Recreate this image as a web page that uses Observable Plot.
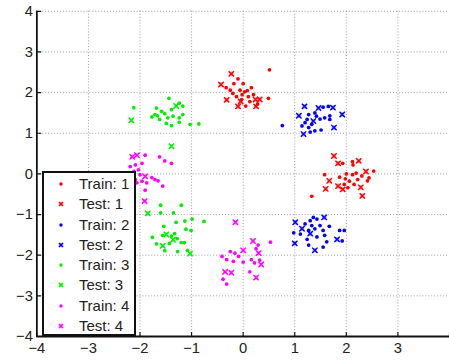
<!DOCTYPE html>
<html><head><meta charset="utf-8">
<script src="https://cdn.jsdelivr.net/npm/d3@7"></script>
<script src="https://cdn.jsdelivr.net/npm/@observablehq/plot@0.6"></script>
<style>
body{margin:0;background:#fff}
#wrap{position:relative;width:449px;height:361px;overflow:hidden;font-family:"Liberation Sans",Arial,Helvetica,sans-serif}
#legend{position:absolute;left:42px;top:171px;width:90px;height:161px;border:2px solid #111;background:#fff}
.row{position:absolute;left:0;width:90px;height:20px;line-height:20px;font-size:15px;color:#222}
.row svg{position:absolute;left:10px;top:3px}
.row span{position:absolute;left:35px;top:0}
</style>
</head><body>
<div id="wrap"><div id="chart"></div><div id="legend"></div></div>
<script>
const ticks = [-4,-3,-2,-1,0,1,2,3,4];
const xTickLabels = [-4,-3,-2,-1,0,1,2,3];
const yTickLabels = [-4,-3,-2,-1,0,1,2,3,4];
const classNames = ["1","2","3","4"];
const classColors = ["#ff0000","#0000ff","#00ee00","#ff00ff"];

const train1 = [[0.51,2.56],[-0.10,2.34],[-0.33,2.12],[-0.18,2.22],[0,2.22],[-0.25,2.06],[-0.06,2.06],[0.16,2.12],[0.03,2.02],[-0.13,1.90],[-0.03,1.83],[0.10,1.90],[0.49,1.86],[0.13,1.78],[0.05,1.67],[-0.20,1.98],[0.08,2.05],[-0.02,1.95],[0.20,1.95],[0.28,1.72],
[1.93,0.26],[2.12,0.30],[2.13,0.22],[1.58,-0.02],[1.87,-0.08],[2.0,0],[2.12,-0.02],[2.19,0.02],[2.53,0.07],[2.44,-0.10],[1.96,-0.26],[2.03,-0.34],[2.15,-0.26],[2.06,-0.18],[1.33,-0.55],[2.41,-0.17],[2.22,-0.14],[2.30,-0.05],[1.98,-0.12]];
const test1 = [[-0.23,2.46],[-0.43,2.20],[-0.32,1.82],[0.24,1.83],[0.32,1.83],[-0.10,1.66],[0.25,1.66],[-0.05,1.78],
[1.76,0.44],[1.84,0.26],[2.24,0.32],[2.38,0.06],[1.67,-0.17],[1.84,-0.30],[1.93,-0.38],[2.28,-0.33],[1.60,-0.37],[2.31,-0.54]];

const train2 = [[1.55,1.64],[1.65,1.66],[1.27,1.46],[1.39,1.50],[1.68,1.43],[0.76,1.19],[1.24,1.34],[1.49,1.35],[1.58,1.38],[1.68,1.34],[1.14,1.18],[1.27,1.14],[1.39,1.06],[1.51,1.08],[1.30,1.03],[1.20,1.26],[1.33,1.22],[1.42,1.42],
[1.36,-1.07],[1.30,-1.15],[1.43,-1.11],[1.20,-1.23],[1.33,-1.27],[1.49,-1.27],[1.67,-1.29],[1.27,-1.39],[1.39,-1.35],[1.55,-1.39],[1.87,-1.39],[1.96,-1.39],[0.98,-1.45],[1.11,-1.48],[1.58,-1.51],[1.92,-1.65],[1.24,-1.61],[1.43,-1.55],[1.62,-1.67],[1.27,-1.75],[1.55,-1.80]];
const test2 = [[1.19,1.66],[1.46,1.62],[1.74,1.63],[1.08,1.43],[1.92,1.46],[1.36,1.30],[1.76,1.14],[1.17,0.98],
[1.57,-1.07],[1.01,-1.19],[1.14,-1.35],[1.30,-1.47],[1.82,-1.61],[1.00,-1.71],[1.39,-1.88]];

const train3 = [[-1.44,1.86],[-2.12,1.63],[-1.68,1.62],[-1.58,1.54],[-1.39,1.58],[-1.24,1.74],[-1.17,1.67],[-1.77,1.40],[-1.66,1.43],[-1.52,1.48],[-1.46,1.38],[-1.62,1.34],[-1.36,1.42],[-1.24,1.38],[-1.17,1.46],[-1.49,1.24],[-1.39,1.19],[-1.24,1.27],[-1.03,1.22],[-0.86,1.23],[-1.71,1.46],
[-1.60,-0.77],[-1.20,-0.77],[-1.60,-0.96],[-1.35,-0.96],[-0.99,-1.11],[-0.76,-1.17],[-1.30,-1.19],[-1.13,-1.16],[-1.54,-1.29],[-1.11,-1.36],[-1.01,-1.39],[-1.76,-1.56],[-1.56,-1.51],[-1.39,-1.53],[-1.33,-1.47],[-1.28,-1.59],[-1.20,-1.69],[-1.14,-1.69],[-1.68,-1.72],[-1.43,-1.71],[-1.52,-1.89],[-1.27,-1.91],[-1.08,-1.88]];
const test3 = [[-2.17,1.32],[-1.30,1.67],[-1.39,0.68],[-1.85,-0.97],[-1.49,-1.49],[-1.56,-1.77],[-1.03,-1.96],[-1.36,-1.62]];

const train4 = [[-1.90,0.46],[-1.62,0.42],[-1.52,0.32],[-1.39,0.26],[-2.19,0.18],[-2.09,0.22],[-1.96,0.26],[-2.12,0.06],[-2.03,0.10],[-2.09,-0.14],[-1.96,-0.18],[-1.71,-0.14],[-1.65,-0.17],[-1.87,-0.22],[-2.06,-0.22],[-1.56,-0.30],[-1.90,-0.40],[-1.77,-0.09],[-2.00,-0.02],
[0.53,-1.68],[0.29,-1.75],[0.25,-1.84],[-0.41,-2.03],[-0.25,-1.91],[-0.16,-1.95],[-0.09,-2.03],[-0.32,-2.11],[-0.19,-2.15],[0,-2.17],[0.16,-2.11],[0.32,-2.12],[0.22,-2.19],[0.13,-2.41],[-0.39,-2.59],[-0.32,-2.71]];
const test4 = [[-2.15,0.42],[-2.06,0.46],[-1.90,-0.06],[-1.91,-0.67],[-0.15,-1.19],[0.19,-1.65],[0,-1.88],[0.35,-2.23],[-0.35,-2.41],[-0.23,-2.43],[0.25,-2.55],[0.30,-1.95]];

const trainSets = [train1, train2, train3, train4];
const testSets = [test1, test2, test3, test4];

const tickShape = {draw(ctx, l) { ctx.moveTo(0, 0); ctx.lineTo(0, -l); }};
const fmt = d => d < 0 ? "\u2212" + Math.abs(d) : String(d);

const marks = [
  Plot.gridX(ticks, {stroke: "#888", strokeOpacity: 0.85, strokeWidth: 1, strokeDasharray: "1,2"}),
  Plot.gridY(ticks, {stroke: "#888", strokeOpacity: 0.85, strokeWidth: 1, strokeDasharray: "1,2"}),
  Plot.axisX(xTickLabels, {tickSize: 0, tickPadding: 6, fontSize: 15, fill: "#222", tickFormat: fmt}),
  Plot.axisY(yTickLabels, {tickSize: 0, tickPadding: 4, fontSize: 15, fill: "#222", tickFormat: fmt}),
  Plot.vector(ticks, {x: d => d, frameAnchor: "bottom", length: 4, rotate: 0, anchor: "start", shape: tickShape, stroke: "#111", strokeWidth: 1.2}),
  Plot.vector(ticks, {y: d => d, frameAnchor: "left", length: 4, rotate: 90, anchor: "start", shape: tickShape, stroke: "#111", strokeWidth: 1.2}),
  Plot.ruleX([-4], {stroke: "#111", strokeWidth: 1.8}),
  Plot.ruleY([-4], {stroke: "#111", strokeWidth: 1.8})
];
trainSets.forEach((s, i) => {
  marks.push(Plot.dot(s, {x: d => d[0], y: d => d[1], r: 1.9, fill: classColors[i], stroke: "none"}));
});
testSets.forEach((s, i) => {
  marks.push(Plot.dot(s, {x: d => d[0], y: d => d[1], r: 2.6, symbol: "square", fill: classColors[i], fillOpacity: 0.35, stroke: "none"}));
  marks.push(Plot.dot(s, {x: d => d[0], y: d => d[1], r: 2.6, symbol: "times", stroke: classColors[i], strokeWidth: 1.4}));
});

const chart = Plot.plot({
  width: 457, height: 361,
  marginLeft: 37, marginRight: 0, marginTop: 11, marginBottom: 19,
  x: {domain: [-4, 4]},
  y: {domain: [-4, 4]},
  style: {fontFamily: "'Liberation Sans', Arial, Helvetica, sans-serif", fontSize: "15px", background: "#fff", overflow: "visible"},
  marks
});
document.getElementById("chart").appendChild(chart);

// Legend
const legend = document.getElementById("legend");
const ns = "http://www.w3.org/2000/svg";
classNames.forEach((name, i) => {
  ["Train", "Test"].forEach((kind, k) => {
    const idx = i * 2 + k;
    const row = document.createElement("div");
    row.className = "row";
    row.style.top = (1 + idx * 20.25) + "px";
    const svg = document.createElementNS(ns, "svg");
    svg.setAttribute("width", 14); svg.setAttribute("height", 14);
    if (kind === "Train") {
      const c = document.createElementNS(ns, "circle");
      c.setAttribute("cx", 7); c.setAttribute("cy", 7); c.setAttribute("r", 1.7);
      c.setAttribute("fill", classColors[i]);
      svg.appendChild(c);
    } else {
      const r = document.createElementNS(ns, "rect");
      r.setAttribute("x", 4.8); r.setAttribute("y", 4.8); r.setAttribute("width", 4.4); r.setAttribute("height", 4.4);
      r.setAttribute("fill", classColors[i]); r.setAttribute("fill-opacity", 0.35);
      svg.appendChild(r);
      const p = document.createElementNS(ns, "path");
      p.setAttribute("d", "M5,5L9,9M9,5L5,9");
      p.setAttribute("stroke", classColors[i]); p.setAttribute("stroke-width", 1.3);
      svg.appendChild(p);
    }
    row.appendChild(svg);
    const sp = document.createElement("span");
    sp.textContent = kind + ": " + name;
    row.appendChild(sp);
    legend.appendChild(row);
  });
});
</script>
</body></html>
